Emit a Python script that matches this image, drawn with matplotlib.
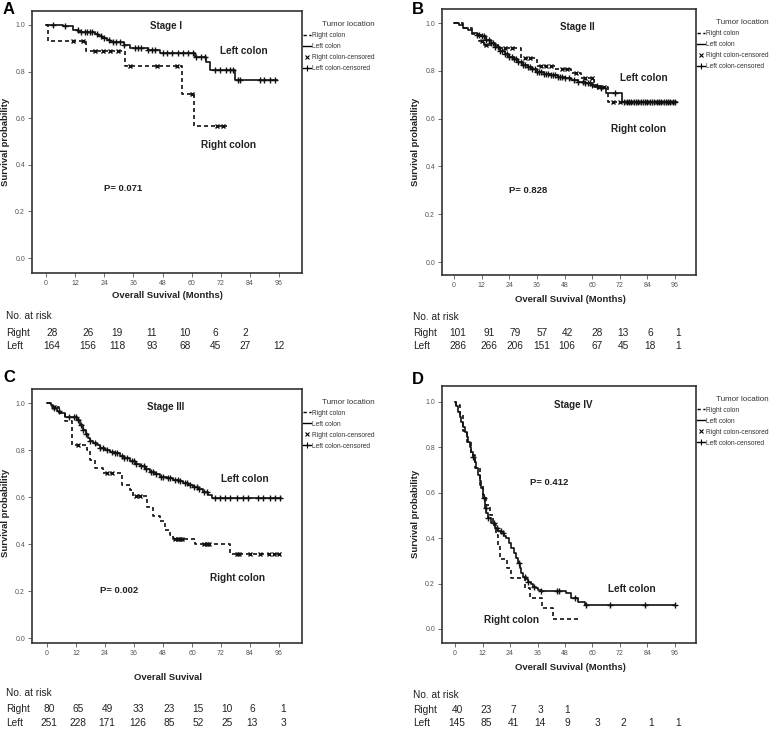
import numpy as np
import matplotlib
matplotlib.use('Agg')
import matplotlib.pyplot as plt
from matplotlib.lines import Line2D

plt.rcParams['font.family'] = ['Liberation Sans', 'DejaVu Sans']

# ---------------- data ----------------
# Stage I
a_left_t = [0, 7, 11, 13.3, 20.3, 21.6, 23, 25, 26.4, 32, 34.5, 42, 47, 61.4, 66, 67.6, 78]
a_left_s = [1.0, 0.994, 0.98, 0.97, 0.961, 0.951, 0.944, 0.936, 0.929, 0.914, 0.90, 0.893, 0.88, 0.861, 0.841, 0.808, 0.765]
a_left_end = 95
a_left_cens = [3, 8, 13, 14.5, 16, 17, 18, 19, 21, 22.5, 24, 26, 27.5, 29, 30.5, 32, 36.5, 38, 39, 42, 43.5,
               45, 48, 50, 52, 54.5, 56.5, 58.5, 60.5, 62, 64, 65.5, 69.5, 71.5, 74, 76, 77, 79, 80, 88, 90, 92.5, 94.5]
a_right_t = [0, 1, 16.5, 32.5, 56, 61]
a_right_s = [1.0, 0.93, 0.89, 0.825, 0.705, 0.567]
a_right_end = 74.5
a_right_cens = [11, 15.4, 20.2, 23.6, 26.4, 29.8, 34.6, 45.6, 53.8, 60, 70.3, 73]

# Stage II
b_left_t = [0, 2, 4, 6, 8, 10, 12, 14, 16, 18, 20, 22, 24, 26, 28, 30, 32, 34, 36, 39, 42, 45, 48, 51, 54, 57,
            60, 62, 64, 66, 73]
b_left_s = [1.0, 0.99, 0.98, 0.97, 0.96, 0.95, 0.945, 0.93, 0.915, 0.90, 0.885, 0.872, 0.86, 0.85, 0.837, 0.826,
            0.815, 0.806, 0.797, 0.789, 0.782, 0.776, 0.769, 0.762, 0.755, 0.748, 0.742, 0.735, 0.728, 0.707, 0.668]
b_left_end = 97
b_left_cens = [10, 11, 12, 13, 14, 15, 16, 17, 18, 19, 20, 21, 22, 23, 24, 25, 26, 27, 28, 29, 30, 31, 32, 33, 34,
               35, 36, 37, 38, 39, 40, 41, 42, 43, 44, 45, 46, 47, 48, 50, 52, 54, 56, 57, 58, 59, 60, 62, 64, 70,
               74, 75, 76, 77, 78, 79, 80, 81, 82, 83, 84, 85, 86, 87, 88, 89, 90, 91, 92, 93, 94, 95, 96]
b_right_t = [0, 4, 8, 11, 13, 19, 29, 36, 44, 51, 55, 61, 67]
b_right_s = [1.0, 0.98, 0.955, 0.925, 0.91, 0.895, 0.855, 0.822, 0.807, 0.79, 0.771, 0.733, 0.668]
b_right_end = 97
b_right_cens = [12, 14, 22, 25, 31, 33, 38, 40, 42, 47, 49, 53, 57, 60, 63, 65, 69, 72, 75, 77, 80, 84, 88, 90, 93, 95]

# Stage III
c_left_t = [0, 1.5, 2.6, 4, 5.4, 7.4, 12.3, 13.7, 15, 16, 17.1, 18, 19.2, 20.5, 21.9, 24, 26.1, 28, 30.2, 32,
            34.3, 36.5, 38.5, 40.5, 42.6, 44.5, 46.8, 49.5, 52.3, 54.5, 56.4, 58.5, 60.5, 62.5, 64.7, 66.5, 68.1]
c_left_s = [1.0, 0.99, 0.979, 0.968, 0.957, 0.943, 0.929, 0.908, 0.886, 0.87, 0.851, 0.84, 0.83, 0.82, 0.809,
            0.80, 0.794, 0.786, 0.777, 0.765, 0.752, 0.741, 0.731, 0.72, 0.709, 0.697, 0.685, 0.68, 0.674, 0.667,
            0.66, 0.652, 0.645, 0.635, 0.624, 0.61, 0.596]
c_left_end = 97
c_left_cens = [3, 5, 9, 11, 12, 13, 14, 15, 16, 18, 20, 22, 23, 25, 27, 28, 29, 31, 32, 33, 35, 36, 37, 39, 40,
               41, 43, 44, 45, 47, 48, 50, 51, 53, 54, 55, 57, 58, 59, 61, 62, 63, 65, 66, 69.5, 71.6, 73.6, 75.7,
               78.5, 81.2, 83.3, 87.4, 89.5, 92.3, 94.3, 96.4]
c_right_t = [0, 2, 5, 7.4, 10.2, 16.4, 17.8, 19.8, 23.3, 30.9, 34.3, 35.7, 41.2, 44, 46.8, 48.8, 50.9, 52.3,
             61.2, 75.7]
c_right_s = [1.0, 0.985, 0.96, 0.922, 0.823, 0.801, 0.758, 0.723, 0.702, 0.652, 0.631, 0.603, 0.56, 0.518,
             0.497, 0.461, 0.44, 0.423, 0.40, 0.358]
c_right_end = 97
c_right_cens = [3, 13, 25, 27, 37, 38.5, 53, 54, 55, 56, 65, 66, 67, 78.5, 79.5, 84, 88, 92, 94, 96]

# Stage IV
d_left_t = [0, 0.6, 1.3, 2, 2.8, 3.5, 4.2, 5, 5.7, 6.4, 7.1, 7.9, 8.6, 9.3, 10, 10.8, 11.5, 12.2, 13, 13.7,
            14.4, 15.8, 17.3, 18.7, 20.2, 21.3, 22.4, 23.5, 24.6, 25.7, 26.8, 27.5, 28.2, 29, 29.7, 30.8, 31.9,
            33, 34.1, 35.2, 36.2, 37.7, 48.6, 50.8, 53.7, 56.6]
d_left_s = [1.0, 0.98, 0.957, 0.935, 0.913, 0.89, 0.869, 0.847, 0.825, 0.803, 0.781, 0.759, 0.737, 0.708, 0.678,
            0.65, 0.62, 0.576, 0.532, 0.51, 0.488, 0.466, 0.444, 0.433, 0.422, 0.411, 0.40, 0.378, 0.355, 0.333,
            0.311, 0.289, 0.267, 0.248, 0.23, 0.219, 0.208, 0.197, 0.186, 0.179, 0.172, 0.165, 0.157, 0.135,
            0.12, 0.106]
d_left_end = 96
d_left_cens = [7.9, 12.5, 13.5, 14.5, 17, 18.5, 20, 21, 27.9, 30.4, 32, 34.4, 37.7, 44.5, 45.2, 52.4, 57.2,
               67.7, 83, 96]
d_right_t = [0, 0.6, 2, 3.5, 5, 7, 8.6, 10.8, 12.2, 13.7, 15.1, 16.6, 18, 18.8, 19.5, 22.5, 24.5, 30.4, 32.8,
             37.8, 42.8]
d_right_s = [1.0, 0.987, 0.943, 0.87, 0.825, 0.767, 0.708, 0.634, 0.59, 0.546, 0.502, 0.458, 0.414, 0.37, 0.31,
             0.267, 0.223, 0.182, 0.135, 0.091, 0.045]
d_right_end = 54.5
d_right_cens = []

# numbers at risk
a_risk_right = [28, 26, 19, 11, 10, 6, 2]
a_risk_left = [164, 156, 118, 93, 68, 45, 27, 12]
b_risk_right = [101, 91, 79, 57, 42, 28, 13, 6, 1]
b_risk_left = [286, 266, 206, 151, 106, 67, 45, 18, 1]
c_risk_right = [80, 65, 49, 33, 23, 15, 10, 6, 1]
c_risk_left = [251, 228, 171, 126, 85, 52, 25, 13, 3]
d_risk_right = [40, 23, 7, 3, 1]
d_risk_left = [145, 85, 41, 14, 9, 3, 2, 1, 1]

p_values = ['P= 0.071', 'P= 0.828', 'P= 0.002', 'P= 0.412']
stages = ['Stage I', 'Stage II', 'Stage III', 'Stage IV']
x_ticks = [0, 12, 24, 36, 48, 60, 72, 84, 96]
y_ticks = [0.0, 0.2, 0.4, 0.6, 0.8, 1.0]

# ---------------- figure ----------------
W, H = 778, 730
fig = plt.figure(figsize=(W / 100, H / 100), dpi=100)


def fx(px):
    return px / W


def fy(py):
    return 1 - py / H


DASH = (0, (2.4, 1.8))


def km(ax, t, s, t_end, cens, ls, marker, ms):
    t = np.asarray(t, float)
    s = np.asarray(s, float)
    ax.step(np.append(t, t_end), np.append(s, s[-1]), where='post', color='#111', lw=1.2, linestyle=ls)
    if len(cens):
        idx = np.searchsorted(t, cens, side='right') - 1
        ax.plot(cens, s[idx], ls='none', marker=marker, ms=ms, mew=1.0, color='#111')


def risk_table(x0, ys, cols, right, left):
    fig.text(fx(x0), fy(ys[0]), 'No. at risk', fontsize=7.3, color='#222', va='center', ha='left')
    fig.text(fx(x0), fy(ys[1]), 'Right', fontsize=7.3, color='#222', va='center', ha='left')
    fig.text(fx(x0), fy(ys[2]), 'Left', fontsize=7.3, color='#222', va='center', ha='left')
    for i, v in enumerate(right):
        fig.text(fx(cols[i]), fy(ys[1]), str(v), fontsize=7.3, color='#222', va='center', ha='center')
    for i, v in enumerate(left):
        fig.text(fx(cols[i]), fy(ys[2]), str(v), fontsize=7.3, color='#222', va='center', ha='center')


panels = [
    dict(box=(32, 11, 302, 273), xlim=(-5.8, 105.5), ylim=(-0.064, 1.06),
         curves=((a_right_t, a_right_s, a_right_end, a_right_cens), (a_left_t, a_left_s, a_left_end, a_left_cens)),
         stage=(49.4, 0.995), lc=(81.6, 0.89), rc=(75, 0.485), p=(31.8, 0.30),
         letter=('A', 3, 10), ylab=(6, 142), xlab=('Overall Suvival (Months)', 167, 295),
         risk=(6, (316, 333, 346), (52, 88, 117, 152, 185, 215, 245, 279), a_risk_right, a_risk_left)),
    dict(box=(442, 9, 696, 275), xlim=(-5.2, 105.1), ylim=(-0.054, 1.059),
         curves=((b_right_t, b_right_s, b_right_end, b_right_cens), (b_left_t, b_left_s, b_left_end, b_left_cens)),
         stage=(53.5, 0.983), lc=(82.6, 0.77), rc=(80, 0.556), p=(32, 0.30),
         letter=('B', 412, 9), ylab=(415, 142), xlab=('Overall Suvival (Months)', 570, 300),
         risk=(413, (317, 333, 346), (458, 489, 515, 542, 567, 597, 623, 650, 678), b_risk_right, b_risk_left)),
    dict(box=(32, 389, 302, 643), xlim=(-6.2, 105.5), ylim=(-0.02, 1.06),
         curves=((c_right_t, c_right_s, c_right_end, c_right_cens), (c_left_t, c_left_s, c_left_end, c_left_cens)),
         stage=(49, 0.983), lc=(82, 0.677), rc=(79, 0.255), p=(30, 0.204),
         letter=('C', 3, 378), ylab=(6, 513), xlab=('Overall Suvival', 168, 677),
         risk=(6, (693, 709, 723), (49, 78, 107, 138, 169, 198, 227, 252, 283), c_risk_right, c_risk_left)),
    dict(box=(442, 386, 696, 643), xlim=(-5.7, 105.2), ylim=(-0.062, 1.07),
         curves=((d_right_t, d_right_s, d_right_end, d_right_cens), (d_left_t, d_left_s, d_left_end, d_left_cens)),
         stage=(51.5, 0.987), lc=(77, 0.176), rc=(24.5, 0.04), p=(41, 0.643),
         letter=('D', 412, 379), ylab=(416, 514), xlab=('Overall Suvival (Months)', 570, 667),
         risk=(413, (695, 710, 723), (457, 486, 513, 540, 567, 597, 623, 651, 678), d_risk_right, d_risk_left)),
]

for k, pn in enumerate(panels):
    l, t, r, b = pn['box']
    ax = fig.add_axes([fx(l), fy(b), (r - l) / W, (b - t) / H])
    ax.set_xlim(*pn['xlim'])
    ax.set_ylim(*pn['ylim'])
    (rt, rs, re_, rcens), (lt, ls_, le, lcens) = pn['curves']
    km(ax, rt, rs, re_, rcens, DASH, 'x', 2.5)
    km(ax, lt, ls_, le, lcens, '-', '+', 4.5)

    ax.set_xticks(x_ticks)
    ax.set_yticks(y_ticks)
    ax.set_yticklabels(['%.1f' % v for v in y_ticks])
    ax.tick_params(direction='out', length=3, width=0.6, color='#555', labelsize=5, labelcolor='#555', pad=2)
    for sp in ax.spines.values():
        sp.set_linewidth(1.2)
        sp.set_color('#333')

    bold = dict(fontweight='bold', color='#222', ha='center', va='center')
    ax.text(*pn['stage'], stages[k], fontsize=7, **bold)
    ax.text(*pn['lc'], 'Left colon', fontsize=7.2, **bold)
    ax.text(*pn['rc'], 'Right colon', fontsize=7.2, **bold)
    ax.text(*pn['p'], p_values[k], fontsize=6.8, **bold)

    handles = [Line2D([], [], color='black', lw=1, ls=DASH),
               Line2D([], [], color='black', lw=1),
               Line2D([], [], color='black', ls='none', marker='x', ms=3.5, mew=0.8),
               Line2D([], [], color='black', lw=1, marker='+', ms=5, mew=0.8)]
    labels = ['Right colon', 'Left colon', 'Right colon-censored', 'Left colon-censored']
    leg = ax.legend(handles, labels, title='Tumor location', loc='upper left', bbox_to_anchor=(1.0, 0.965),
                    frameon=False, borderaxespad=0.1, borderpad=0, fontsize=4.8, title_fontsize=5.8,
                    handlelength=1.3, handletextpad=0.15, labelspacing=0.6, alignment='right')
    leg.get_title().set_color('#333')
    for txt in leg.get_texts():
        txt.set_color('#333')

    letter, lx, ly = pn['letter']
    fig.text(fx(lx), fy(ly), letter, fontsize=12, fontweight='bold', va='center', ha='left')
    yx, yy = pn['ylab']
    fig.text(fx(yx), fy(yy), 'Survival probability', rotation=90, fontsize=6.8, fontweight='bold',
             color='#222', ha='center', va='center')
    xl, xx, xy = pn['xlab']
    fig.text(fx(xx), fy(xy), xl, fontsize=6.8, fontweight='bold', color='#222', ha='center', va='center')
    risk_table(*pn['risk'])

fig.savefig('out.png', dpi=100)
